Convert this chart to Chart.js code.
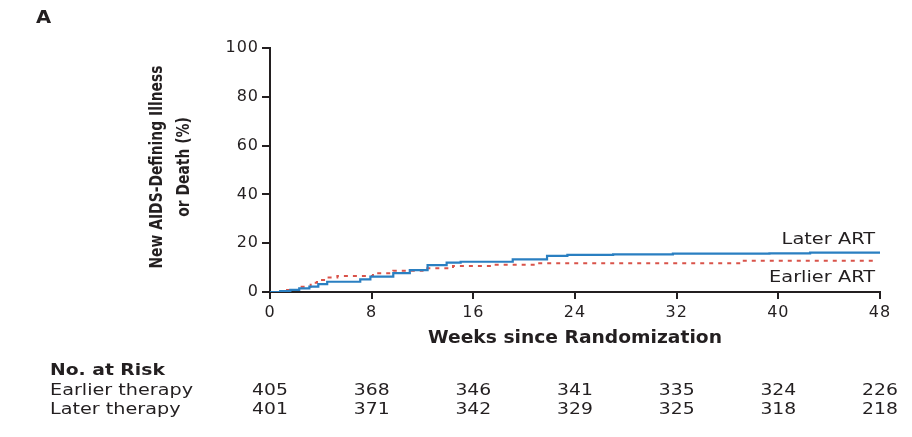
<!DOCTYPE html>
<html>
<head>
<meta charset="utf-8">
<script src="https://cdn.jsdelivr.net/npm/chart.js@4"></script>
<style>
  html, body { margin: 0; padding: 0; background: #fff; }
  #wrap { width: 912px; height: 437px; }
</style>
</head>
<body>
<div id="wrap"><canvas id="kmChart" width="912" height="437"></canvas></div>
<script>
// Kaplan-Meier estimates (weeks, cumulative %)
const laterWeeks   = [0, 0.8, 1.6, 2.3, 3.1, 3.8, 4.5, 7.1, 7.9, 9.7, 11.0, 12.4, 13.9, 15.0, 19.1, 21.8, 23.4, 27.0, 31.7, 39.3, 42.5, 48];
const laterPct     = [0, 0.4, 0.9, 1.5, 2.2, 3.2, 4.2, 5.2, 6.3, 7.7, 9.0, 11.0, 12.0, 12.4, 13.4, 14.8, 15.2, 15.4, 15.7, 15.8, 16.1, 16.1];

const earlierWeeks = [0, 1.2, 2.4, 3.2, 3.7, 4.5, 5.3, 8.1, 9.7, 12.0, 14.4, 17.5, 21.0, 37.0, 47.8];
const earlierPct   = [0, 0.8, 2.2, 3.8, 4.9, 5.9, 6.6, 7.7, 8.7, 9.7, 10.7, 11.2, 11.8, 12.8, 12.8];

// number at risk table
const riskWeeks    = [0, 8, 16, 24, 32, 40, 48];
const earlierRisk  = [405, 368, 346, 341, 335, 324, 226];
const laterRisk    = [401, 371, 342, 329, 325, 318, 218];

const blue = '#2a7fc1';
const red = '#d9534a';
const ink = '#231f20';

function toPoints(xs, ys) {
    return xs.map((x, i) => ({ x: x, y: ys[i] }));
}

// the source figure is a bit wider than tall in its lettering, so stretch text
function stretchText(ctx, text, x, y, align, sx) {
    ctx.save();
    ctx.translate(x, y);
    ctx.scale(sx, 1);
    ctx.textAlign = align;
    ctx.fillText(text, 0, 0);
    ctx.restore();
}

const annotations = {
    id: 'annotations',
    beforeDraw(chart) {
        chart.ctx.letterSpacing = '1px';
    },
    afterDraw(chart) {
        const ctx = chart.ctx;
        const x = chart.scales.x;
        const y = chart.scales.y;
        const area = chart.chartArea;
        ctx.letterSpacing = '0px';
        ctx.save();
        ctx.fillStyle = ink;
        ctx.textBaseline = 'middle';

        ctx.font = 'bold 17px "DejaVu Sans"';
        stretchText(ctx, 'A', 36, 19, 'left', 1.15);

        // y axis title, two lines, squeezed to the original length
        ctx.font = 'bold 17px "DejaVu Sans"';
        const w1 = ctx.measureText('New AIDS-Defining Illness').width;
        const sq = 203 / w1;
        ctx.save();
        ctx.translate(158, 167);
        ctx.rotate(-Math.PI / 2);
        ctx.scale(sq, 1);
        ctx.textAlign = 'center';
        ctx.fillText('New AIDS-Defining Illness', 0, 0);
        ctx.fillText('or Death (%)', 0, 27);
        ctx.restore();

        // x axis title
        ctx.font = 'bold 17px "DejaVu Sans"';
        stretchText(ctx, 'Weeks since Randomization', (area.left + area.right) / 2, 339, 'center', 1.1);

        // curve labels
        ctx.font = '16px "DejaVu Sans"';
        stretchText(ctx, 'Later ART', area.right - 5, y.getPixelForValue(21.3), 'right', 1.21);
        stretchText(ctx, 'Earlier ART', area.right - 5, y.getPixelForValue(6.0), 'right', 1.21);

        // no. at risk
        ctx.font = 'bold 15px "DejaVu Sans"';
        stretchText(ctx, 'No. at Risk', 50, 371, 'left', 1.25);
        ctx.font = '15px "DejaVu Sans"';
        stretchText(ctx, 'Earlier therapy', 50, 391, 'left', 1.28);
        stretchText(ctx, 'Later therapy', 50, 410, 'left', 1.28);
        riskWeeks.forEach((w, i) => {
            const px = x.getPixelForValue(w);
            stretchText(ctx, String(earlierRisk[i]), px, 391, 'center', 1.25);
            stretchText(ctx, String(laterRisk[i]), px, 410, 'center', 1.25);
        });
        ctx.restore();
    }
};

const config = {
    type: 'line',
    data: {
        datasets: [{
            label: 'Later ART',
            data: toPoints(laterWeeks, laterPct),
            borderColor: blue,
            borderWidth: 2.2,
            stepped: true,
            pointRadius: 0,
            fill: false
        }, {
            label: 'Earlier ART',
            data: toPoints(earlierWeeks, earlierPct),
            borderColor: red,
            borderWidth: 2,
            borderDash: [4, 5],
            stepped: true,
            pointRadius: 0,
            fill: false
        }]
    },
    options: {
        responsive: false,
        animation: false,
        layout: {
            padding: { left: 0, top: 48, right: 32, bottom: 87 }
        },
        plugins: {
            legend: { display: false },
            tooltip: { enabled: false }
        },
        scales: {
            x: {
                type: 'linear',
                min: 0,
                max: 48,
                afterFit: (scale) => { scale.height = 58; },
                ticks: {
                    stepSize: 8,
                    color: ink,
                    padding: 4,
                    font: { family: 'DejaVu Sans', size: 16 }
                },
                grid: {
                    drawOnChartArea: false,
                    color: ink,
                    lineWidth: 2,
                    tickLength: 7
                },
                border: { color: ink, width: 2 }
            },
            y: {
                min: 0,
                max: 100,
                afterFit: (scale) => { scale.width = 270; },
                ticks: {
                    stepSize: 20,
                    color: ink,
                    padding: 3,
                    font: { family: 'DejaVu Sans', size: 16 }
                },
                grid: {
                    drawOnChartArea: false,
                    color: ink,
                    lineWidth: 2,
                    tickLength: 8
                },
                border: { color: ink, width: 2 }
            }
        }
    },
    plugins: [annotations]
};

const ctx = document.getElementById('kmChart').getContext('2d');
const kmChart = new Chart(ctx, config);
</script>
</body>
</html>
